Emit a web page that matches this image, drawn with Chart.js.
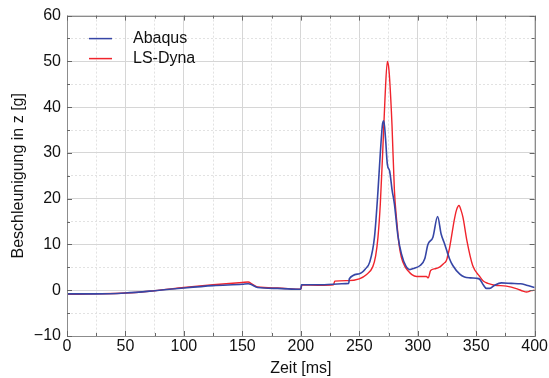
<!DOCTYPE html>
<html>
<head>
<meta charset="utf-8">
<script src="https://cdn.jsdelivr.net/npm/chart.js@4/dist/chart.umd.min.js"></script>
<style>
  html, body { margin: 0; padding: 0; background: #fff; }
  #wrap { width: 549px; height: 378px; }
</style>
</head>
<body>
<div id="wrap"><canvas id="c" width="549" height="378"></canvas></div>
<script>
// Vertical acceleration over time, two solvers
const seriesNames = ['Abaqus', 'LS-Dyna'];
const seriesColors = ['#3646a6', '#f0242c'];

const abaqusTime = [0, 25, 50, 75, 100, 125, 150, 155, 158, 163, 180, 200, 200.5, 220, 235, 241, 241.5, 250, 255, 259, 263, 266, 268, 270, 271, 272.5, 274, 276, 278, 280, 283, 286, 290, 293, 297, 302, 306, 308.7, 313, 317, 320, 323, 327, 330, 336, 340, 345, 350, 353, 356, 358.7, 361.5, 365.8, 371.5, 380, 388, 393, 400];
const abaqusAccel = [-0.8, -0.8, -0.6, -0.1, 0.5, 1.0, 1.3, 1.4, 1.2, 0.6, 0.4, 0.2, 1.2, 1.2, 1.4, 1.5, 2.5, 3.6, 4.6, 6.2, 11.6, 21.7, 30, 36.5, 37, 33, 27.5, 26, 22, 18.9, 12, 8, 5.2, 4.5, 4.8, 5.4, 6.9, 10, 11.6, 16.1, 12.3, 10.1, 7, 5.4, 3.5, 2.9, 2.7, 2.6, 2.4, 1.2, 0.4, 0.4, 1.1, 1.6, 1.5, 1.4, 1.1, 0.6];

const dynaTime = [0, 25, 50, 75, 100, 125, 150, 155, 158, 163, 180, 200, 201, 215, 228, 229, 240, 250, 256, 261.5, 264, 266, 268, 270, 272, 274, 275, 276, 278, 280, 282, 284, 286, 289, 291.5, 295, 299, 304, 307.4, 309, 311, 315, 319, 322, 324.5, 327, 328.8, 331, 333, 335.3, 337, 338.7, 342, 347, 353, 356, 360, 365.8, 375.8, 385, 390, 393, 397, 400];
const dynaAccel = [-0.9, -0.8, -0.6, -0.1, 0.6, 1.2, 1.7, 1.8, 1.4, 0.7, 0.5, 0.2, 1.15, 1.1, 1.2, 2.0, 2.1, 2.5, 3.4, 5.1, 7.5, 11.6, 18.9, 30, 42, 50, 49, 46, 36, 22, 15.2, 10, 7.2, 5.2, 4.3, 3.4, 3.0, 3.0, 3.0, 2.7, 4.3, 4.7, 5.1, 5.8, 6.5, 9, 11.6, 15, 17.4, 18.5, 17.5, 15.9, 10.9, 5.4, 3.0, 2.0, 1.5, 1.1, 0.9, 0.3, -0.2, -0.4, -0.1, 0.0];

const xTicks = [0, 50, 100, 150, 200, 250, 300, 350, 400];
const yTicks = [-10, 0, 10, 20, 30, 40, 50, 60];

const xTitle = 'Zeit [ms]';
const yTitle = 'Beschleunigung in z [g]';

const FONT = '"Liberation Sans", Arial, sans-serif';

function pts(xs, ys) { return xs.map((x, i) => ({ x: x, y: ys[i] })); }

// Frame around the plot, inward tick marks on all sides, legend inside the plot
const framePlugin = {
  id: 'frameTicksLegend',
  afterDraw(chart) {
    const ctx = chart.ctx;
    const a = chart.chartArea;
    const xs = chart.scales.x, ys = chart.scales.y;
    ctx.save();
    ctx.strokeStyle = '#8c8c8c';
    ctx.lineWidth = 1;
    ctx.strokeRect(Math.round(a.left) + 0.5, Math.round(a.top) + 0.5,
                   Math.round(a.right - a.left), Math.round(a.bottom - a.top));
    ctx.strokeStyle = '#666';
    ctx.beginPath();
    xs.ticks.forEach(t => {
      const px = Math.round(xs.getPixelForValue(t.value)) + 0.5;
      const len = (t.value % 50 === 0) ? 5 : 3;
      ctx.moveTo(px, a.bottom); ctx.lineTo(px, a.bottom - len);
      ctx.moveTo(px, a.top); ctx.lineTo(px, a.top + len);
    });
    ys.ticks.forEach(t => {
      const py = Math.round(ys.getPixelForValue(t.value)) + 0.5;
      const len = (t.value % 10 === 0) ? 5 : 3;
      ctx.moveTo(a.left, py); ctx.lineTo(a.left + len, py);
      ctx.moveTo(a.right, py); ctx.lineTo(a.right - len, py);
    });
    ctx.stroke();

    // legend
    ctx.font = '16px ' + FONT;
    ctx.textBaseline = 'middle';
    ctx.textAlign = 'left';
    chart.data.datasets.forEach((ds, i) => {
      const yy = a.top + 23 + i * 20;
      ctx.strokeStyle = ds.borderColor;
      ctx.lineWidth = 1.5;
      ctx.beginPath();
      ctx.moveTo(a.left + 22, yy); ctx.lineTo(a.left + 45, yy);
      ctx.stroke();
      ctx.fillStyle = '#111';
      ctx.fillText(ds.label, a.left + 66, yy);
    });
    ctx.restore();
  }
};

new Chart(document.getElementById('c'), {
  type: 'line',
  data: {
    datasets: [
      { label: seriesNames[0], data: pts(abaqusTime, abaqusAccel), borderColor: seriesColors[0], borderWidth: 1.6, pointRadius: 0, cubicInterpolationMode: 'monotone', fill: false },
      { label: seriesNames[1], data: pts(dynaTime, dynaAccel), borderColor: seriesColors[1], borderWidth: 1.4, pointRadius: 0, cubicInterpolationMode: 'monotone', fill: false }
    ]
  },
  options: {
    responsive: false,
    animation: false,
    layout: { padding: { top: 14, right: 14, left: 0, bottom: 0 } },
    plugins: { legend: { display: false }, tooltip: { enabled: false } },
    scales: {
      x: {
        type: 'linear', min: 0, max: 400,
        afterFit(s) { s.height = 42; },
        ticks: {
          stepSize: 25, autoSkip: false, maxRotation: 0, padding: 1,
          color: '#111', font: { family: FONT, size: 16 },
          callback: v => (xTicks.includes(v) ? String(v) : '')
        },
        grid: {
          drawTicks: false,
          color: c => (c.tick && c.tick.value % 50 === 0 ? '#d6d6d6' : '#e2e2e2'),
          lineWidth: 1
        },
        border: { display: false, dash: c => (c.tick && c.tick.value % 50 === 0 ? [] : [2, 2]) },
        title: { display: true, text: xTitle, color: '#111', font: { family: FONT, size: 16 }, padding: { top: 0, bottom: 0 } }
      },
      y: {
        type: 'linear', min: -10, max: 60,
        afterFit(s) { s.width = 67; },
        ticks: {
          stepSize: 5, autoSkip: false, padding: 6,
          color: '#111', font: { family: FONT, size: 16 },
          callback: v => (yTicks.includes(v) ? String(v).replace('-', '\u2212') : '')
        },
        grid: {
          drawTicks: false,
          color: c => (c.tick && c.tick.value % 10 === 0 ? '#d6d6d6' : '#e2e2e2'),
          lineWidth: 1
        },
        border: { display: false, dash: c => (c.tick && c.tick.value % 10 === 0 ? [] : [2, 2]) },
        title: { display: true, text: yTitle, color: '#111', font: { family: FONT, size: 16 }, padding: { top: 9, bottom: 0 } }
      }
    }
  },
  plugins: [framePlugin]
});
</script>
</body>
</html>
